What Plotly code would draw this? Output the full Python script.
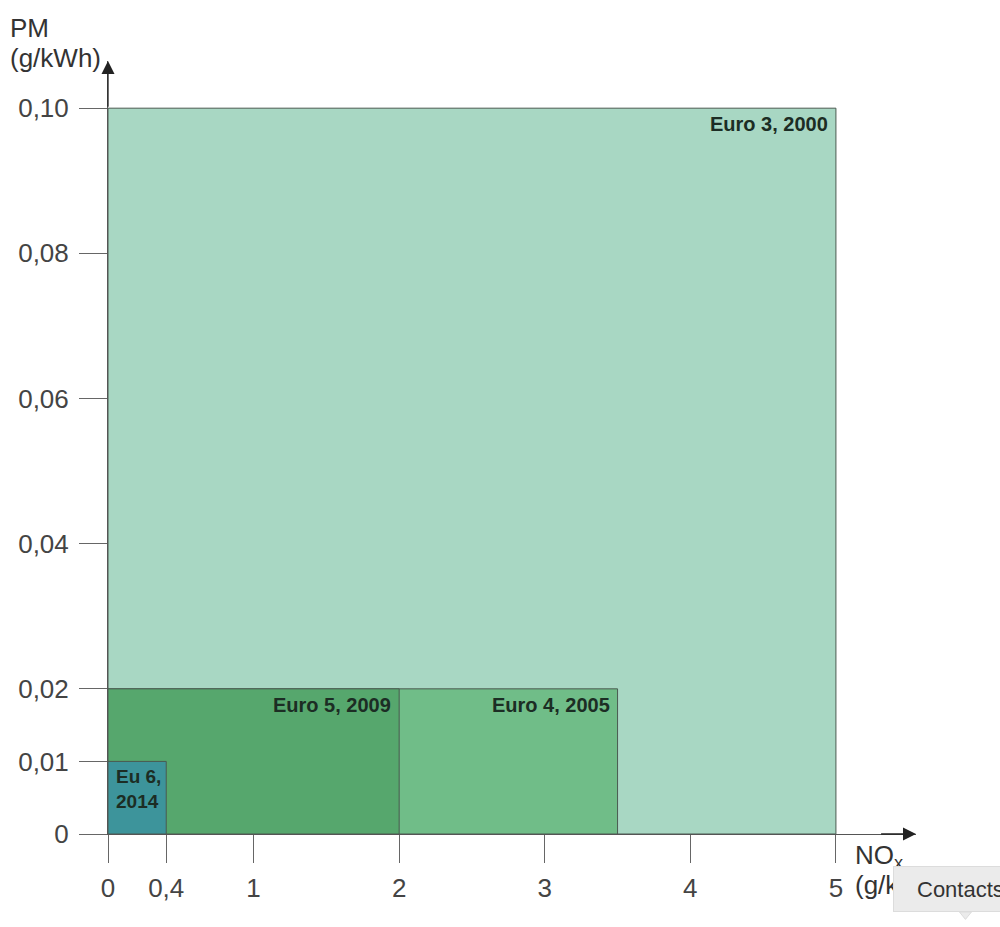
import plotly.graph_objects as go

# Data: Euro emission standards (NOx limit, PM limit)
names = ["Euro 3, 2000", "Euro 4, 2005", "Euro 5, 2009", "Eu 6,<br>2014"]
nox_limits = [5.0, 3.5, 2.0, 0.4]
pm_limits = [0.10, 0.02, 0.02, 0.01]
fill_colors = ["#a8d7c3", "#70bd88", "#56a76d", "#3d949b"]

x_ticks = [0, 0.4, 1, 2, 3, 4, 5]
x_tick_labels = ["0", "0,4", "1", "2", "3", "4", "5"]
y_ticks = [0, 0.01, 0.02, 0.04, 0.06, 0.08, 0.10]
y_tick_labels = ["0", "0,01", "0,02", "0,04", "0,06", "0,08", "0,10"]

FONT = "Liberation Sans, Arial, sans-serif"
fig = go.Figure()

for n, xv, yv, c in zip(names, nox_limits, pm_limits, fill_colors):
    fig.add_trace(go.Scatter(
        x=[0, xv, xv, 0, 0], y=[0, 0, yv, yv, 0],
        mode="lines", fill="toself", fillcolor=c,
        line=dict(color="#4a5a50", width=1), name=n.replace("<br>", " "),
        hoverinfo="name", showlegend=False,
    ))

for i, (n, xv, yv) in enumerate(zip(names, nox_limits, pm_limits)):
    if i == 3:
        fig.add_annotation(x=0, y=yv, text="<b>" + n + "</b>", showarrow=False,
                           xanchor="left", yanchor="top", align="left",
                           xshift=6, yshift=-3,
                           font=dict(family=FONT, size=19, color="#1c2d24"))
    else:
        fig.add_annotation(x=xv, y=yv, text="<b>" + n + "</b>", showarrow=False,
                           xanchor="right", yanchor="top", align="right",
                           xshift=-6, yshift=-3,
                           font=dict(family=FONT, size=20, color="#1c2d24"))

# axis arrows
fig.add_annotation(x=5.55, y=0, ax=5.3, ay=0, axref="x", ayref="y", xref="x", yref="y",
                   showarrow=True, arrowhead=2, arrowsize=2, arrowwidth=1.3,
                   arrowcolor="#222", text="")
fig.add_annotation(x=0, y=0.1065, ax=0, ay=0.1, axref="x", ayref="y", xref="x", yref="y",
                   showarrow=True, arrowhead=2, arrowsize=2, arrowwidth=1.3,
                   arrowcolor="#222", text="")

# axis titles (each line placed separately for tighter line spacing)
title_font = dict(family=FONT, size=26, color="#333")
fig.add_annotation(xref="paper", yref="paper", x=-0.1238, y=1.0, xanchor="left", yanchor="middle",
                   text="PM", showarrow=False, yshift=33, font=title_font)
fig.add_annotation(xref="paper", yref="paper", x=-0.1238, y=1.0, xanchor="left", yanchor="middle",
                   text="(g/kWh)", showarrow=False, yshift=3, font=title_font)
fig.add_annotation(x=5.12, y=0, xref="x", yref="y", xanchor="left", yanchor="middle",
                   text="NO<sub>x</sub>", showarrow=False, yshift=-22, font=title_font)
fig.add_annotation(x=5.12, y=0, xref="x", yref="y", xanchor="left", yanchor="middle",
                   text="(g/kWh)", showarrow=False, yshift=-51, font=title_font)

# tooltip overlay from screenshot (drawn after the axis title so it covers it)
fig.add_shape(type="path", xref="paper", yref="paper",
              path="M 1.0538 -0.1009 L 1.0686 -0.1009 L 1.0612 -0.1105 Z",
              fillcolor="#ebebeb", line=dict(color="#dcdcdc", width=1), layer="above")
fig.add_annotation(xref="paper", yref="paper", x=0.9715, y=-0.0414, xanchor="left", yanchor="top",
                   text="&nbsp;", showarrow=False, width=115, height=44, borderpad=0,
                   bgcolor="#ebebeb", bordercolor="#dcdcdc", borderwidth=1,
                   font=dict(family=FONT, size=22, color="#333"))
fig.add_annotation(xref="paper", yref="paper", x=0.9988, y=-0.0712, xanchor="left", yanchor="middle",
                   text="Contacts", showarrow=False,
                   font=dict(family=FONT, size=22, color="#333"))

fig.update_xaxes(range=[0, 5.55], tickvals=x_ticks, ticktext=x_tick_labels,
                 showgrid=False, zeroline=False, showline=True, linecolor="#555", linewidth=1,
                 ticks="outside", ticklen=28, tickcolor="#666", tickwidth=1,
                 ticklabelstandoff=3,
                 tickfont=dict(family=FONT, size=26, color="#444"))
fig.update_yaxes(range=[0, 0.1065], tickvals=y_ticks, ticktext=y_tick_labels,
                 showgrid=False, zeroline=False, showline=True, linecolor="#555", linewidth=1,
                 ticks="outside", ticklen=28, tickcolor="#666", tickwidth=1,
                 ticklabelstandoff=5,
                 tickfont=dict(family=FONT, size=26, color="#444"))

fig.update_layout(width=1000, height=927, plot_bgcolor="white", paper_bgcolor="white",
                  margin=dict(l=108, r=84, t=61, b=93, autoexpand=False), showlegend=False)

fig.write_html("out.html", config={"displayModeBar": False},
               post_script="document.body.style.margin='0px';document.body.style.overflow='hidden';")
